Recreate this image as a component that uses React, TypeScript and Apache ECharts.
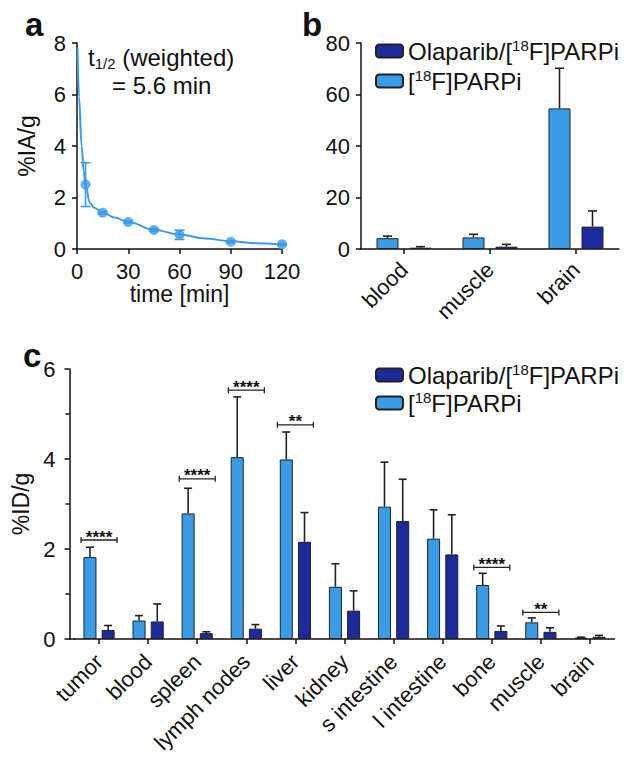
import React, { useEffect, useRef } from "react";
import * as echarts from "echarts";

// Panel a: blood kinetics
const kinTime = [5, 15, 30, 45, 60, 90, 120];
const kinMean = [2.5, 1.41, 1.05, 0.74, 0.55, 0.28, 0.18];
const kinSD = [0.85, 0.04, 0.04, 0.04, 0.18, 0.03, 0.03];
const fitTime = [0.3, 1.2, 2.7, 4, 5, 7.5, 10, 15, 22, 30, 45, 60, 75, 90, 105, 120];
const fitValue = [7.8, 5.9, 4.0, 3.0, 2.5, 1.8, 1.6, 1.42, 1.22, 1.05, 0.75, 0.56, 0.41, 0.3, 0.22, 0.17];
const aXTicks = [0, 30, 60, 90, 120];
const aYTicks = [0, 2, 4, 6, 8];

// Panel b
const bCategories = ["blood", "muscle", "brain"];
const bParpi = [4.2, 4.5, 54.6];
const bParpiSD = [0.8, 1.2, 15.6];
const bOlap = [0.5, 0.9, 8.7];
const bOlapSD = [0.4, 0.9, 6.1];

// Panel c
const cCategories = ["tumor", "blood", "spleen", "lymph nodes", "liver", "kidney", "s intestine", "l intestine", "bone", "muscle", "brain"];
const cParpi = [1.82, 0.41, 2.79, 4.04, 3.99, 1.16, 2.94, 2.23, 1.2, 0.37, 0.03];
const cParpiSD = [0.22, 0.11, 0.56, 1.34, 0.61, 0.51, 0.99, 0.64, 0.26, 0.1, 0.01];
const cOlap = [0.2, 0.39, 0.13, 0.23, 2.16, 0.63, 2.62, 1.88, 0.18, 0.16, 0.05];
const cOlapSD = [0.1, 0.39, 0.03, 0.09, 0.65, 0.44, 0.93, 0.88, 0.11, 0.09, 0.03];
const sigIndex = [0, 2, 3, 4, 8, 9];
const sigY = [2.2, 3.56, 5.53, 4.76, 1.59, 0.59];
const sigLabel = ["****", "****", "****", "**", "****", "**"];

const NAME_PARPI = "[18F]PARPi";
const NAME_OLAP = "Olaparib/[18F]PARPi";
const LIGHT = "#3a9be6";
const DARK = "#1c2a9c";
const FONT = "Liberation Sans";
const INK = "#111";

function errBarRenderer(offset: number, cap: number, color: string, both: boolean) {
  return (params: any, api: any) => {
    const x = api.value(0);
    const m = api.value(1);
    const sd = api.value(2);
    const pTop = api.coord([x, m + sd]);
    const pMid = api.coord([x, m]);
    const pBot = api.coord([x, both ? m - sd : m]);
    const cx = pMid[0] + offset;
    const style = { stroke: color, lineWidth: 1.6 };
    const children: any[] = [
      { type: "line", shape: { x1: cx, y1: pTop[1], x2: cx, y2: pBot[1] }, style },
      { type: "line", shape: { x1: cx - cap / 2, y1: pTop[1], x2: cx + cap / 2, y2: pTop[1] }, style },
    ];
    if (both) {
      children.push({ type: "line", shape: { x1: cx - cap / 2, y1: pBot[1], x2: cx + cap / 2, y2: pBot[1] }, style });
    }
    return { type: "group", children };
  };
}

function bracketRenderer(params: any, api: any) {
  const p = api.coord([api.value(0), api.value(1)]);
  const label = sigLabel[params.dataIndex];
  const style = { stroke: "#222", lineWidth: 1.3 };
  return {
    type: "group",
    children: [
      { type: "line", shape: { x1: p[0] - 18, y1: p[1], x2: p[0] + 18, y2: p[1] }, style },
      { type: "line", shape: { x1: p[0] - 18, y1: p[1] - 3, x2: p[0] - 18, y2: p[1] + 3 }, style },
      { type: "line", shape: { x1: p[0] + 18, y1: p[1] - 3, x2: p[0] + 18, y2: p[1] + 3 }, style },
      {
        type: "text",
        x: p[0],
        y: p[1] - 3,
        style: { text: label, fontSize: 17, fontWeight: "bold", fontFamily: FONT, fill: INK, align: "center", verticalAlign: "middle" },
      },
    ],
  };
}

const axisCommon = {
  axisLine: { show: true, lineStyle: { color: INK, width: 1.5 } },
  axisTick: { show: true, length: 5, lineStyle: { color: INK, width: 1.5 } },
  splitLine: { show: false },
  axisLabel: { color: INK, fontSize: 22, fontFamily: FONT },
  nameTextStyle: { color: INK, fontSize: 23, fontFamily: FONT },
};

const legendRich = {
  t: { fontSize: 24, fontFamily: FONT, color: INK, lineHeight: 26 },
  sup: { fontSize: 15, fontFamily: FONT, color: INK, lineHeight: 15, verticalAlign: "top" as const },
};
const legendFormatter = (name: string) =>
  name === NAME_OLAP ? "{t|Olaparib/[}{sup|18}{t|F]PARPi}" : "{t|[}{sup|18}{t|F]PARPi}";

const panelLetter = (t: string, x: number, y: number) => ({
  type: "text",
  x,
  y,
  style: { text: t, fontSize: 33, fontWeight: "bold", fontFamily: FONT, fill: INK, verticalAlign: "middle" },
});

export default function App() {
  const ref = useRef<HTMLDivElement>(null);
  useEffect(() => {
    if (!ref.current) return;
    const chart = echarts.init(ref.current, null, { renderer: "svg" });
    const option: any = {
      animation: false,
      backgroundColor: "#fff",
      grid: [
        { left: 77, top: 43, width: 205, height: 206 },
        { left: 361, top: 43, width: 258, height: 206 },
        { left: 74.5, top: 369, width: 540, height: 270 },
      ],
      legend: [
        {
          orient: "vertical", left: 370, top: 33, itemWidth: 27, itemHeight: 13, itemGap: 5,
          data: [NAME_OLAP, NAME_PARPI], formatter: legendFormatter,
          textStyle: { rich: legendRich }, selectedMode: false,
        },
        {
          orient: "vertical", left: 370, top: 357, itemWidth: 27, itemHeight: 13, itemGap: 3,
          data: [NAME_OLAP, NAME_PARPI], formatter: legendFormatter,
          textStyle: { rich: legendRich }, selectedMode: false,
        },
      ],
      xAxis: [
        {
          ...axisCommon, gridIndex: 0, type: "value", min: aXTicks[0], max: aXTicks[aXTicks.length - 1], interval: 30,
          name: "time [min]", nameLocation: "middle", nameGap: 27,
          axisLabel: { ...axisCommon.axisLabel, margin: 11 },
        },
        {
          ...axisCommon, gridIndex: 1, type: "category", data: bCategories,
          axisTick: { ...axisCommon.axisTick, alignWithLabel: true },
          axisLabel: { ...axisCommon.axisLabel, fontSize: 22, rotate: 45, margin: 17, interval: 0 },
        },
        {
          ...axisCommon, gridIndex: 2, type: "category", data: cCategories,
          axisTick: { ...axisCommon.axisTick, alignWithLabel: true },
          axisLabel: { ...axisCommon.axisLabel, fontSize: 22, rotate: 45, margin: 19, interval: 0 },
        },
      ],
      yAxis: [
        {
          ...axisCommon, gridIndex: 0, type: "value", min: aYTicks[0], max: aYTicks[aYTicks.length - 1], interval: 2,
          name: "%IA/g", nameLocation: "middle", nameGap: 39,
          axisLabel: { ...axisCommon.axisLabel, margin: 11 },
        },
        {
          ...axisCommon, gridIndex: 1, type: "value", min: 0, max: 80, interval: 20,
          axisLabel: { ...axisCommon.axisLabel, margin: 11 },
        },
        {
          ...axisCommon, gridIndex: 2, type: "value", min: 0, max: 6, interval: 2, offset: 5,
          name: "%ID/g", nameLocation: "middle", nameGap: 27,
          minorTick: { show: true, splitNumber: 2, length: 4, lineStyle: { color: INK, width: 1.5 } },
          axisLabel: { ...axisCommon.axisLabel, margin: 14 },
        },
      ],
      series: [
        // Panel a
        {
          type: "line", xAxisIndex: 0, yAxisIndex: 0, data: fitTime.map((t, i) => [t, fitValue[i]]),
          smooth: 0.4, smoothMonotone: "x", showSymbol: false, lineStyle: { color: LIGHT, width: 2 }, silent: true,
        },
        {
          type: "custom", xAxisIndex: 0, yAxisIndex: 0, renderItem: errBarRenderer(0, 10, LIGHT, true),
          data: kinTime.map((t, i) => [t, kinMean[i], kinSD[i]]), clip: false, z: 3,
        },
        {
          type: "scatter", xAxisIndex: 0, yAxisIndex: 0, data: kinTime.map((t, i) => [t, kinMean[i]]),
          symbolSize: 10, itemStyle: { color: LIGHT }, z: 4,
        },
        // Panel b
        {
          name: NAME_PARPI, type: "bar", xAxisIndex: 1, yAxisIndex: 1, data: bParpi, barWidth: 22, barGap: "50%",
          itemStyle: { color: LIGHT, borderColor: "#222", borderWidth: 1 },
        },
        {
          name: NAME_OLAP, type: "bar", xAxisIndex: 1, yAxisIndex: 1, data: bOlap, barWidth: 22, barGap: "50%",
          itemStyle: { color: DARK, borderColor: "#222", borderWidth: 1 },
        },
        {
          type: "custom", xAxisIndex: 1, yAxisIndex: 1, renderItem: errBarRenderer(-16.5, 9, "#222", false),
          data: bParpi.map((v, i) => [i, v, bParpiSD[i]]), clip: false, z: 3,
        },
        {
          type: "custom", xAxisIndex: 1, yAxisIndex: 1, renderItem: errBarRenderer(16.5, 9, "#222", false),
          data: bOlap.map((v, i) => [i, v, bOlapSD[i]]), clip: false, z: 3,
        },
        // Panel c
        {
          name: NAME_PARPI, type: "bar", xAxisIndex: 2, yAxisIndex: 2, data: cParpi, barWidth: 13, barGap: "40%",
          itemStyle: { color: LIGHT, borderColor: "#222", borderWidth: 1 },
        },
        {
          name: NAME_OLAP, type: "bar", xAxisIndex: 2, yAxisIndex: 2, data: cOlap, barWidth: 13, barGap: "40%",
          itemStyle: { color: DARK, borderColor: "#222", borderWidth: 1 },
        },
        {
          type: "custom", xAxisIndex: 2, yAxisIndex: 2, renderItem: errBarRenderer(-9.1, 8, "#222", false),
          data: cParpi.map((v, i) => [i, v, cParpiSD[i]]), clip: false, z: 3,
        },
        {
          type: "custom", xAxisIndex: 2, yAxisIndex: 2, renderItem: errBarRenderer(9.1, 8, "#222", false),
          data: cOlap.map((v, i) => [i, v, cOlapSD[i]]), clip: false, z: 3,
        },
        {
          type: "custom", xAxisIndex: 2, yAxisIndex: 2, renderItem: bracketRenderer,
          data: sigIndex.map((c, i) => [c, sigY[i]]), clip: false, z: 5,
        },
      ],
      graphic: [
        panelLetter("a", 25, 24),
        panelLetter("b", 302, 24),
        panelLetter("c", 23, 355),
        // x-axis line of panel c reaches the offset y-axis
        { type: "line", shape: { x1: 69, y1: 639, x2: 75, y2: 639 }, style: { stroke: INK, lineWidth: 1.5 } },
        {
          type: "text", left: 88, top: 45,
          style: {
            text: "{a|t}{s|1/2}{a| (weighted)}",
            rich: {
              a: { fontSize: 24, fontFamily: FONT, fill: INK, lineHeight: 28 },
              s: { fontSize: 15, fontFamily: FONT, fill: INK, lineHeight: 17, verticalAlign: "bottom" },
            },
          },
        },
        {
          type: "text", left: 112, top: 73,
          style: { text: "{a|= 5.6 min}", rich: { a: { fontSize: 24, fontFamily: FONT, fill: INK, lineHeight: 28 } } },
        },
      ],
    };
    chart.setOption(option);
    return () => chart.dispose();
  }, []);
  return <div ref={ref} style={{ position: "fixed", left: 0, top: 0, width: 631, height: 771, background: "#fff" }} />;
}
